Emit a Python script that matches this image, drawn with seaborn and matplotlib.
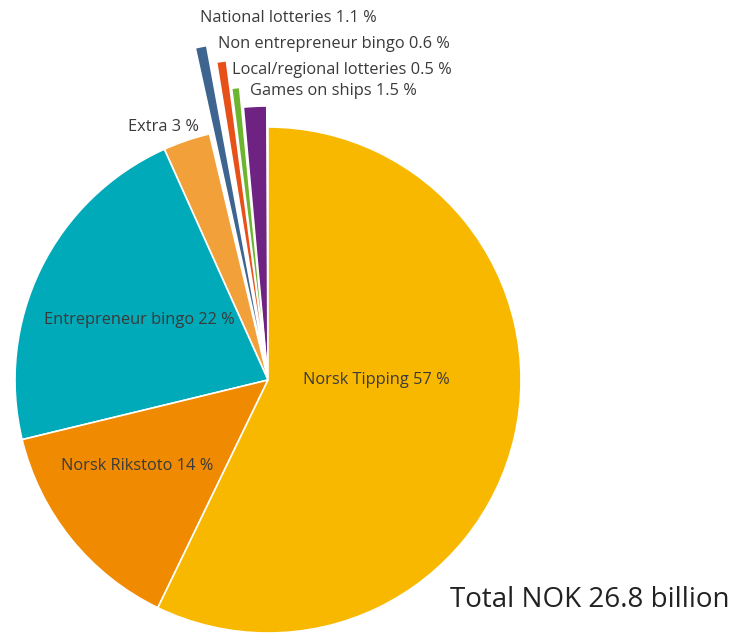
import matplotlib.pyplot as plt
import seaborn as sns

sns.set_theme(style="white")
plt.rcParams['font.family'] = ['Open Sans', 'DejaVu Sans']

# data, counter-clockwise from 12 o'clock
names = ["Games on ships", "Local/regional lotteries", "Non entrepreneur bingo",
         "National lotteries", "Extra", "Entrepreneur bingo", "Norsk Rikstoto",
         "Norsk Tipping"]
shares = [1.5, 0.5, 0.6, 1.1, 3, 22, 14, 57]
colors = ["#6E2282", "#6DB52E", "#E8501A", "#3E6590", "#F2A03A",
          "#00AAB8", "#F08A00", "#F9B800"]
radii = [274, 294, 322, 340, 253, 253, 253, 253]
# small slices are pulled apart a little (degrees trimmed on each side)
gaps = [0.25, 0.12, 0.2, 1.0, 0, 0, 0, 0]

# label positions in pixels (x, y from top)
label_pos = [(250, 91), (232, 70), (218, 44), (200, 18), (128, 127),
             (44, 320), (61, 466), (303, 380)]

H = 635
fig = plt.figure(figsize=(7.32, 6.35), dpi=100)
ax = fig.add_axes([0, 0, 1, 1])

cx, cy = 268, H - 380
wedges, _ = ax.pie(shares, colors=colors, startangle=90, counterclock=True,
                   center=(cx, cy), radius=253, frame=True,
                   wedgeprops=dict(edgecolor="white", linewidth=1.2))
for w, r, g in zip(wedges, radii, gaps):
    w.set_radius(r)
    if g:
        w.set_theta1(w.theta1 + g)
        w.set_theta2(w.theta2 - g)

ax.set_xlim(0, 732)
ax.set_ylim(0, H)
ax.set_aspect("equal")
ax.axis("off")

for name, val, (x, y) in zip(names, shares, label_pos):
    ax.text(x, H - y, f"{name} {val:g} %", fontsize=11.8, color="#3a3a3a",
            ha="left", va="center")

ax.text(450, H - 600, "Total NOK 26.8 billion", fontsize=20, color="#222222",
        ha="left", va="center")

fig.savefig("out.png", dpi=100)
